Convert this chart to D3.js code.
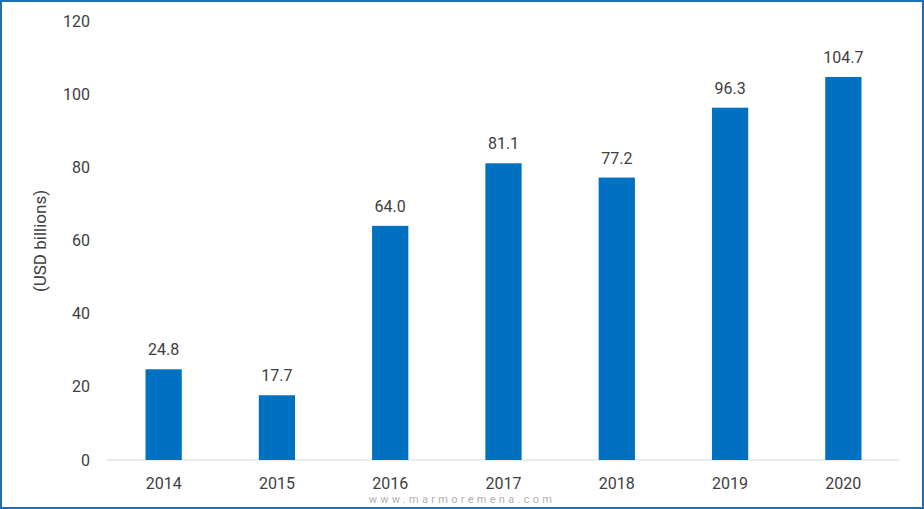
<!DOCTYPE html>
<html><head><meta charset="utf-8">
<script src="https://cdn.jsdelivr.net/npm/d3@7"></script>
<style>body{margin:0;background:#fff}svg{display:block}</style>
</head><body><svg id="c" width="924" height="509"></svg>
<script>
const years = ["2014","2015","2016","2017","2018","2019","2020"];
const values = [24.8,17.7,64.0,81.1,77.2,96.3,104.7];
const yTicks = [0,20,40,60,80,100,120];
const yLabel = "(USD billions)";
const footer = "www.marmoremena.com";

const svg = d3.select("#c");
svg.append("rect").attr("x",1).attr("y",1).attr("width",922).attr("height",507)
  .attr("fill","#fff").attr("stroke","#1f6fb5").attr("stroke-width",2);
const x = d3.scaleBand().domain(years).range([107,900]).paddingInner(0.68).paddingOuter(0.34);
const y = d3.scaleLinear().domain([0,120]).range([460,21]);
const font = "Roboto, Arial, sans-serif";

svg.append("g").selectAll("text").data(yTicks).join("text")
  .attr("x",90).attr("y",d=>y(d)).attr("dy","0.35em").attr("text-anchor","end")
  .attr("font-family",font).attr("font-size",16).attr("fill","#404040").text(d=>d);

svg.append("line").attr("x1",107).attr("x2",900).attr("y1",y(0)).attr("y2",y(0))
  .attr("stroke","#d9d9d9").attr("stroke-width",1);

svg.append("g").selectAll("rect").data(values).join("rect")
  .attr("x",(d,i)=>x(years[i])).attr("width",x.bandwidth())
  .attr("y",d=>y(d)).attr("height",d=>y(0)-y(d)).attr("fill","#0070C0");

svg.append("g").selectAll("text").data(values).join("text")
  .attr("x",(d,i)=>x(years[i])+x.bandwidth()/2).attr("y",d=>y(d)-14)
  .attr("text-anchor","middle").attr("font-family",font).attr("font-size",16)
  .attr("fill","#404040").text(d=>d.toFixed(1));

svg.append("g").selectAll("text").data(years).join("text")
  .attr("x",d=>x(d)+x.bandwidth()/2).attr("y",489).attr("text-anchor","middle")
  .attr("font-family",font).attr("font-size",16).attr("fill","#404040").text(d=>d);

svg.append("text").attr("transform","translate(46,241) rotate(-90)").attr("text-anchor","middle")
  .attr("font-family",font).attr("font-size",17).attr("fill","#404040").text(yLabel);

svg.append("text").attr("x",462).attr("y",503).attr("text-anchor","middle")
  .attr("font-family",font).attr("font-size",11).attr("letter-spacing",3.3)
  .attr("fill","#b0b0b0").text(footer);
</script></body></html>
